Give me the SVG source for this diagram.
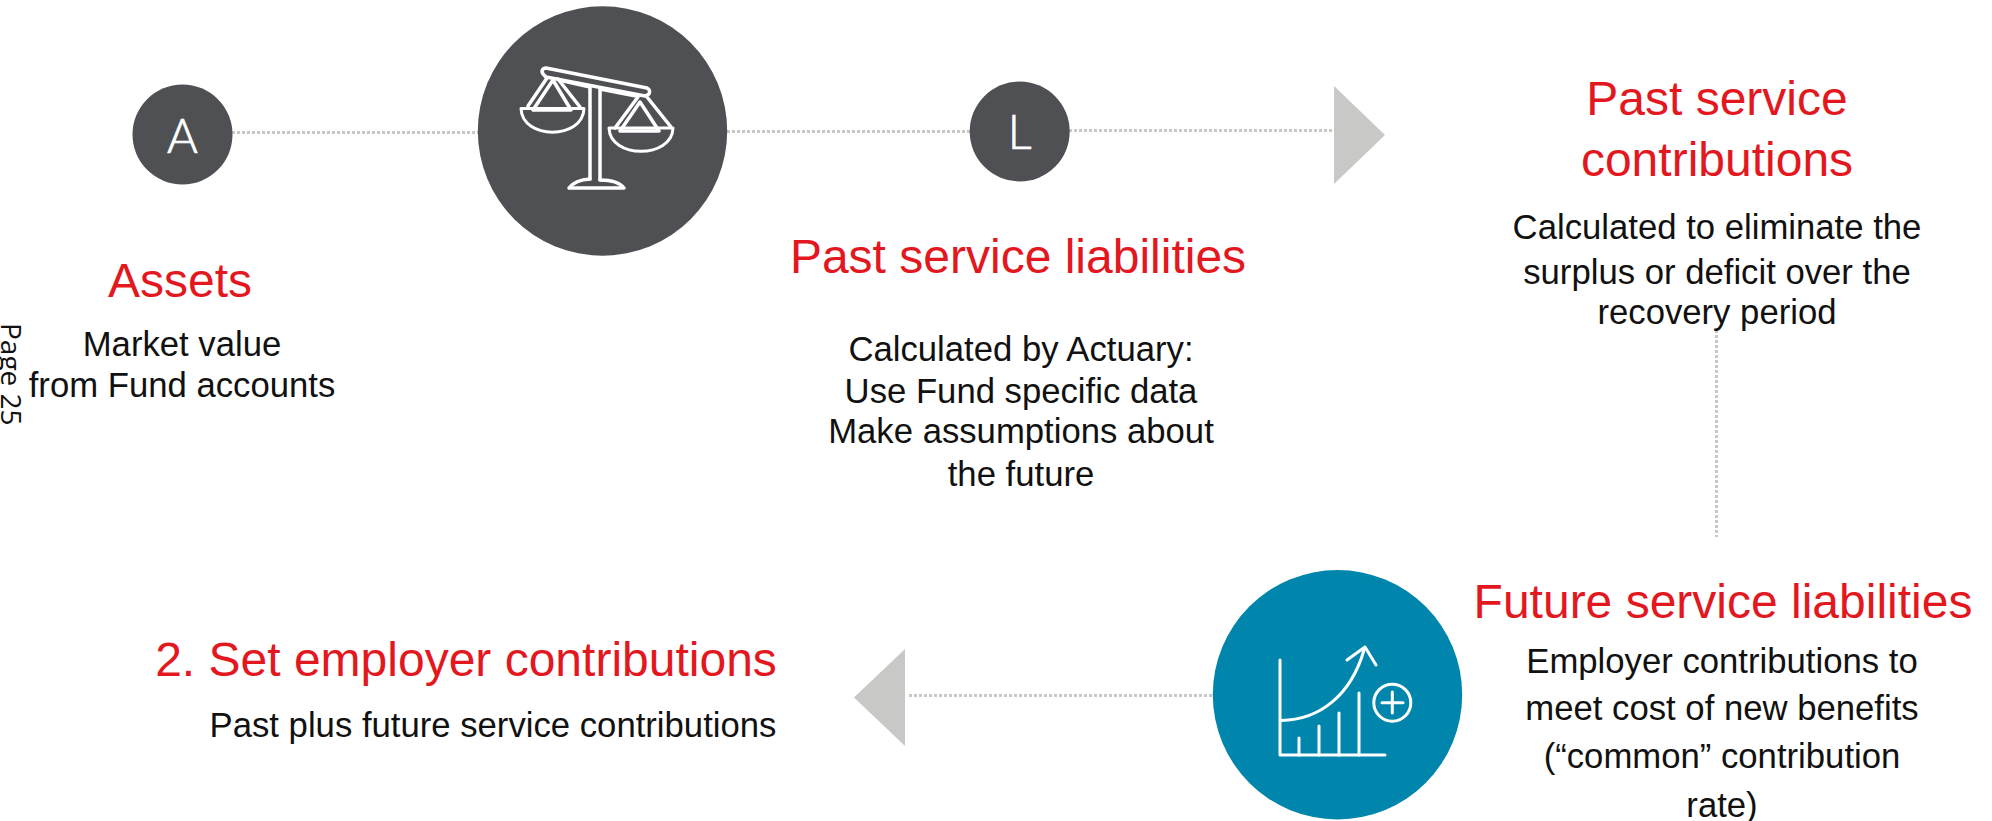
<svg xmlns="http://www.w3.org/2000/svg" width="1992" height="821" viewBox="0 0 1992 821">
<style>
text{font-family:"Liberation Sans",Arial,sans-serif}
.t{font-size:48px;fill:#e3181f;text-anchor:middle}
.b{font-size:34.700px;fill:#111;text-anchor:middle}
.l{font-family:Lato,"Liberation Sans",sans-serif;font-weight:300;font-size:47px;fill:#fff;stroke:#fff;stroke-width:.7;text-anchor:middle}
.d{stroke:#c8c8c6;stroke-width:3;stroke-dasharray:3 2;fill:none}
.i{fill:none;stroke:#fff;stroke-linecap:round;stroke-linejoin:round}
.a{fill:#c8c8c6}
</style>
<rect width="1992" height="821" fill="#fff"/>
<g id="connectors">
<line class="d" x1="232" y1="132.500" x2="478" y2="132.500"/>
<line class="d" x1="727" y1="131.500" x2="970" y2="131.500"/>
<line class="d" x1="1069" y1="130.500" x2="1333" y2="130.500"/>
<line class="d" x1="909" y1="695.500" x2="1213" y2="695.500"/>
<line class="d" x1="1716.500" y1="330" x2="1716.500" y2="537"/>
<polygon class="a" points="1334,86 1385,135 1334,184"/>
<polygon class="a" points="905,649 854,697.500 905,746"/>
</g>
<g id="page-number"><text transform="translate(1,323) rotate(90)" style="font-family:'Open Sans',sans-serif;font-size:28px" fill="#111">Page 25</text></g>
<g id="node-a"><circle cx="182.500" cy="134.500" r="50" fill="#4e5054"/><text class="l" x="182.500" y="153">A</text></g>
<g id="node-balance"><circle cx="602.500" cy="131" r="124.700" fill="#4e5054"/>
<g class="i" stroke-width="3.500">
<path d="M546 68 L647 88 Q651 90 649 94 L645 96 L546 77 Q542 74 542 71 Q543 68 546 68Z"/>
<path d="M547 78 L528 106 M558 79 L580 107"/>
<path d="M553 80 L533 110 L571 110Z"/>
<path d="M521 108.500 L584 108.500 C583 140 522 140 521 108.500Z" stroke-width="3"/>
<path d="M559 80 L590 87 L590 179 M600 89 L636 96 M600 89 L600 180"/>
<path d="M638 97 L615 128 M647 97 L671 127"/>
<path d="M640 102 L620 131 L659 131Z"/>
<path d="M609 128 L673 128 C672 159 610 159 609 128Z" stroke-width="3"/>
<path d="M590 179 Q575 180 569 188 L624 188 Q618 180 600 180"/>
</g></g>
<g id="node-l"><circle cx="1019.700" cy="131.500" r="50" fill="#4e5054"/><text class="l" x="1019.700" y="149">L</text></g>
<g id="node-future"><circle cx="1337.500" cy="694.700" r="124.700" fill="#0085ad"/>
<g class="i" stroke-width="3">
<path d="M1280 660 L1280 755 L1385 755"/>
<path d="M1299 738 V755 M1319 726 V755 M1339 713 V755 M1359 693 V755"/>
<path d="M1281 720.500 C1320 720 1351 695 1364 650"/>
<path d="M1347 660 L1365 647 L1376 665"/>
<circle cx="1392.300" cy="702.700" r="18.500"/>
<path d="M1382 702.700 H1403 M1392.300 692 V713"/>
</g></g>
<g id="label-assets"><text class="t" x="180" y="297">Assets</text><text class="b" x="182" y="356">Market value</text><text class="b" x="182" y="397">from Fund accounts</text></g>
<g id="label-psl"><text class="t" x="1018" y="273">Past service liabilities</text>
<text class="b" x="1021" y="361">Calculated by Actuary:</text><text class="b" x="1021" y="403">Use Fund specific data</text><text class="b" x="1021" y="443">Make assumptions about</text><text class="b" x="1021" y="486">the future</text></g>
<g id="label-psc"><text class="t" x="1717" y="115">Past service</text><text class="t" x="1717" y="176">contributions</text>
<text class="b" x="1717" y="239">Calculated to eliminate the</text><text class="b" x="1717" y="284">surplus or deficit over the</text><text class="b" x="1717" y="324">recovery period</text></g>
<g id="label-fsl"><text class="t" x="1723" y="618">Future service liabilities</text>
<text class="b" x="1722" y="673">Employer contributions to</text><text class="b" x="1722" y="720">meet cost of new benefits</text><text class="b" x="1722" y="768">(“common” contribution</text><text class="b" x="1722" y="817">rate)</text></g>
<g id="label-set"><text class="t" x="466" y="676">2. Set employer contributions</text><text class="b" x="493" y="737">Past plus future service contributions</text></g>
</svg>
